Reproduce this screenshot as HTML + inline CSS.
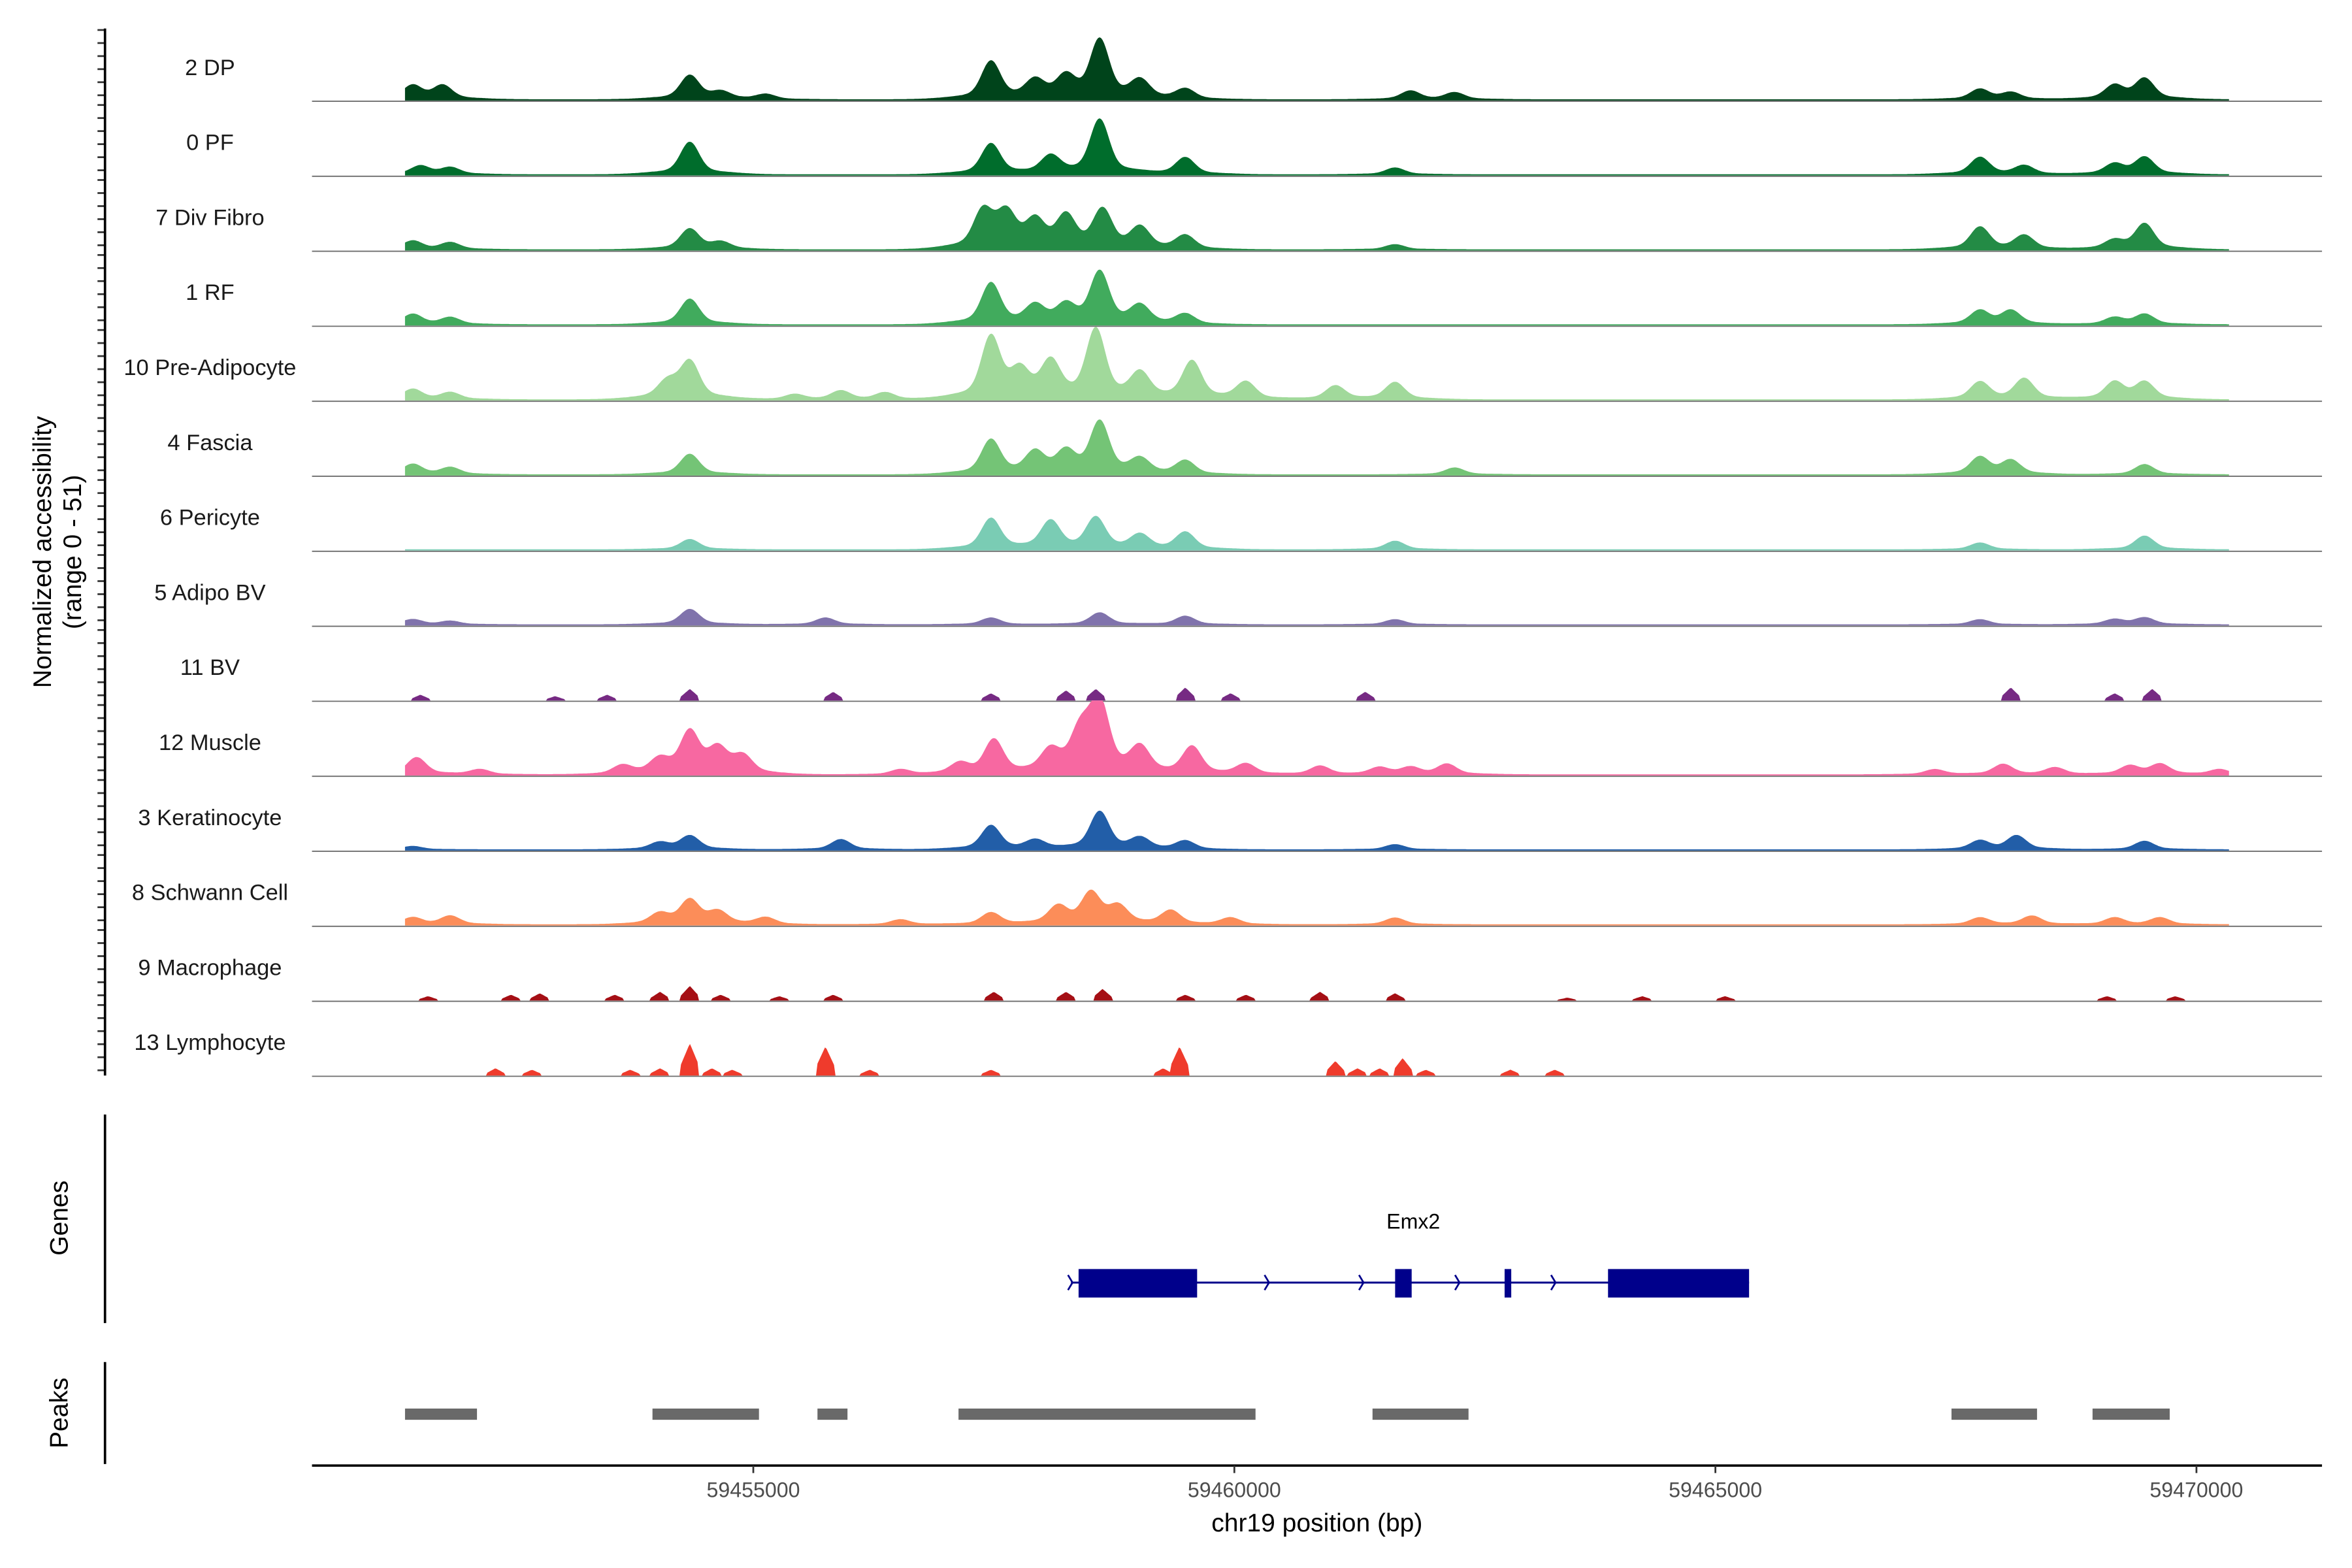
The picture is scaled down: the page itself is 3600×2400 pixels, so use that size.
<!DOCTYPE html>
<html><head><meta charset="utf-8"><style>
html,body{margin:0;padding:0;background:#fff;}
svg{display:block;font-family:"Liberation Sans",Arial,sans-serif;}
</style></head><body>
<svg id="chart" width="3600" height="2400" viewBox="0 0 1568 1045.3" preserveAspectRatio="none" xmlns="http://www.w3.org/2000/svg">
<rect width="1568" height="1046" fill="#fff"/>
<g id="tracks"></g>
<g id="axes"></g>
<text transform="translate(34,368) rotate(-90)" text-anchor="middle" font-size="17" fill="#000">Normalized accessibility</text>
<text transform="translate(54,368) rotate(-90)" text-anchor="middle" font-size="17" fill="#000">(range 0 - 51)</text>
<text transform="translate(45,812) rotate(-90)" text-anchor="middle" font-size="17" fill="#000">Genes</text>
<text transform="translate(45,942) rotate(-90)" text-anchor="middle" font-size="17" fill="#000">Peaks</text>
<g id="genes"></g>
<g id="peaks"></g>
<text x="878" y="1021" text-anchor="middle" font-size="17" fill="#000">chr19 position (bp)</text>
</svg>
<script>
const trackNames=["2 DP","0 PF","7 Div Fibro","1 RF","10 Pre-Adipocyte","4 Fascia","6 Pericyte","5 Adipo BV","11 BV","12 Muscle","3 Keratinocyte","8 Schwann Cell","9 Macrophage","13 Lymphocyte"];
const trackColors=["#00441b","#006d2c","#238b45","#41ab5d","#a1d99b","#74c476","#7accb4","#8073ac","#762a83","#f768a1","#225ea8","#fc8d59","#a50f15","#ef3b2c"];
// peak positions (kb) and heights (0-51 scale)
const pos0=[59451.46,59451.77,59454.34,59454.66,59455.13,59457.47,59457.93,59458.25,59458.60,59459.02,59459.49,59461.83,59462.29,59467.75,59468.07,59469.15,59469.46];
const val0=[8,8,14,4,3,22,10,12,34,10,6,5,4,6,4,8,12];
const pos1=[59451.54,59451.85,59454.34,59457.47,59458.09,59458.60,59459.49,59461.67,59467.75,59468.21,59469.15,59469.46];
const val1=[5,4,19,18,10,32,10,4,10,5,6,10];
const pos2=[59451.46,59451.85,59454.34,59454.66,59457.39,59457.63,59457.93,59458.25,59458.63,59459.02,59459.49,59461.67,59467.75,59468.21,59469.15,59469.46];
const val2=[5,4,12,4,22,20,15,18,22,12,8,3,13,8,5,15];
const pos3=[59451.46,59451.85,59454.34,59457.47,59457.93,59458.25,59458.60,59459.02,59459.49,59467.75,59468.07,59469.15,59469.46];
const val3=[6,4,15,24,10,10,30,10,6,8,8,4,6];
const pos4=[59451.46,59451.85,59454.11,59454.34,59455.43,59455.91,59456.37,59457.47,59457.77,59458.09,59458.56,59459.02,59459.56,59460.12,59461.05,59461.67,59467.75,59468.21,59469.15,59469.46];
const val4=[6,4,10,22,3,5,4,36,15,20,40,14,22,10,8,10,10,12,10,10];
const pos5=[59451.46,59451.85,59454.34,59457.47,59457.93,59458.25,59458.60,59459.02,59459.49,59462.29,59467.75,59468.07,59469.46];
const val5=[6,4,12,20,12,12,30,8,8,4,10,8,6];
const pos6=[59454.34,59457.47,59458.09,59458.56,59459.02,59459.49,59461.67,59467.75,59469.46];
const val6=[6,18,16,18,8,10,5,4,8];
const pos7=[59451.46,59451.85,59454.34,59455.75,59457.47,59458.60,59459.49,59461.67,59467.75,59469.15,59469.46];
const val7=[3,2,9,4,4,7,5,3,3,3,4];
const pos8=[59451.54,59452.94,59453.48,59454.34,59455.83,59457.47,59458.25,59458.56,59459.49,59459.96,59461.36,59468.07,59469.15,59469.54];
const val8=[4,3,4,8,6,5,7,8,9,5,6,9,5,8];
const pos9=[59451.50,59452.16,59453.64,59454.03,59454.34,59454.63,59454.89,59456.53,59457.15,59457.50,59458.09,59458.40,59458.60,59459.02,59459.56,59460.12,59460.89,59461.51,59461.83,59462.21,59467.28,59467.99,59468.53,59469.31,59469.62,59470.24];
const val9=[10,3,5,8,24,14,10,3,6,20,12,24,40,14,16,6,5,4,4,6,3,6,4,5,6,3];
const pos10=[59451.46,59454.03,59454.34,59455.91,59457.47,59457.93,59458.60,59459.02,59459.49,59461.67,59467.75,59468.13,59469.46];
const val10=[2,4,8,6,14,5,22,6,5,3,5,8,5];
const pos11=[59451.46,59451.85,59454.03,59454.34,59454.63,59455.13,59456.53,59457.47,59458.17,59458.51,59458.79,59459.34,59459.96,59461.67,59467.75,59468.29,59469.15,59469.62];
const val11=[4,5,6,14,7,4,3,7,10,18,10,8,4,4,4,5,4,4];
const pos12=[59451.62,59452.48,59452.78,59453.56,59454.03,59454.34,59454.66,59455.27,59455.83,59457.50,59458.25,59458.63,59459.49,59460.12,59460.89,59461.67,59463.46,59464.24,59465.10,59469.07,59469.78];
const val12=[3,4,5,4,6,10,4,3,4,6,6,8,4,4,6,5,2,3,3,3,3];
const pos13=[59452.32,59452.70,59453.72,59454.03,59454.34,59454.57,59454.78,59455.75,59456.21,59457.47,59459.26,59459.43,59461.05,59461.28,59461.51,59461.75,59461.99,59462.87,59463.33];
const val13=[5,4,4,5,22,5,4,20,4,4,5,20,10,5,5,12,4,4,4];
const trackPos=[pos0,pos1,pos2,pos3,pos4,pos5,pos6,pos7,pos8,pos9,pos10,pos11,pos12,pos13];
const trackVal=[val0,val1,val2,val3,val4,val5,val6,val7,val8,val9,val10,val11,val12,val13];
const rangeStart=59451.38, rangeEend=0, rangeEnd=59470.34;
const xTickVals=[59455000,59460000,59465000,59470000];
const peakStarts=[59451.380,59453.952,59455.667,59457.133,59461.436,59467.454,59468.920];
const peakEnds=[59452.128,59455.059,59455.979,59460.220,59462.434,59468.343,59469.722];
const exonStarts=[59458.381,59461.671,59462.809,59463.884];
const exonEnds=[59459.613,59461.843,59462.878,59465.350];
const geneStart=59458.302, geneEnd=59465.350;
const arrowPos=[59458.302,59460.345,59461.327,59462.325,59463.323];
const geneLabelPos=59461.86;

const NS="http://www.w3.org/2000/svg";
function xs(kb){return 502.2+(kb-59455)*64.14;}
function yv(v){return v*0.97;}
function mk(tag,attrs,parent){const e=document.createElementNS(NS,tag);for(const k in attrs)e.setAttribute(k,attrs[k]);parent.appendChild(e);return e;}
const tracksG=document.getElementById('tracks');
const axesG=document.getElementById('axes');
const sparse=[8,12,13];
const x0=Math.round(xs(rangeStart)), x1=Math.round(xs(rangeEnd));
for(let t=0;t<trackNames.length;t++){
  const base=67+50*t;
  const g=mk('g',{},tracksG);
  
  
  const lab=mk('text',{x:140,y:base-17,'text-anchor':'middle','font-size':15,fill:'#1a1a1a'},g);
  lab.textContent=trackNames[t];
  
  
  const P=trackPos[t],V=trackVal[t];
  const isSparse=sparse.includes(t);
  let d='M'+x0+','+base;
  for(let x=x0;x<=x1;x+=1){
    let y=0;
    for(let i=0;i<P.length;i++){
      const c=xs(P[i]);const dx=x-c;
      if(isSparse){ if(Math.abs(dx)<6) y=Math.max(y,yv(V[i])*(1-Math.abs(dx)/9)); }
      else{
        y+=yv(V[i])*Math.exp(-dx*dx/(2*6*6));
        y+=yv(V[i])*0.18*Math.exp(-dx*dx/(2*22*22));
      }
    }
    if(!isSparse) y+=0.8;
    y=Math.min(y,50);
    d+=' L'+x+','+(base-y).toFixed(1);
  }
  d+=' L'+x1+','+base+' Z';
  const p=mk('path',{d:d,fill:trackColors[t],stroke:'none'},g);
  
  
  const bl=mk('line',{x1:208,x2:1548,y1:base+0.5,y2:base+0.5,stroke:'#6e6e6e','stroke-width':0.8},g);
  
  
  for(let k=0;k<6;k++){
    const ty=base-47+k*8.7;
    const tk=mk('line',{x1:65,x2:70,y1:ty,y2:ty,stroke:'#333','stroke-width':1.2},axesG);
    
    
  }
}
let a=mk('line',{x1:70,x2:70,y1:19,y2:717,stroke:'#000','stroke-width':1.6},axesG);

a=mk('line',{x1:70,x2:70,y1:743,y2:882,stroke:'#000','stroke-width':1.6},axesG);

a=mk('line',{x1:70,x2:70,y1:908,y2:976,stroke:'#000','stroke-width':1.6},axesG);

a=mk('line',{x1:208,x2:1548,y1:977,y2:977,stroke:'#000','stroke-width':1.6},axesG);

for(const v of xTickVals){
  const x=xs(v/1000);
  const tk=mk('line',{x1:x,x2:x,y1:977,y2:982,stroke:'#333','stroke-width':1.2},axesG);
  
  
  const tl=mk('text',{x:x,y:998,'text-anchor':'middle','font-size':14,fill:'#4d4d4d'},axesG);
  tl.textContent=v;
  
  
}
const genesG=document.getElementById('genes');
let gl=mk('line',{x1:xs(geneStart),x2:xs(geneEnd),y1:855,y2:855,stroke:'#00008b','stroke-width':1.3},genesG);

for(let i=0;i<exonStarts.length;i++){
  const r=mk('rect',{x:xs(exonStarts[i]),y:846,width:xs(exonEnds[i])-xs(exonStarts[i]),height:19,fill:'#00008b'},genesG);
  
  
}
for(const p of arrowPos){
  const x=xs(p);
  const ar=mk('path',{d:`M${x-2},850 L${x+1},855 L${x-2},860`,fill:'none',stroke:'#00008b','stroke-width':1.2},genesG);
  
  
}
const gt=mk('text',{x:xs(geneLabelPos),y:819,'text-anchor':'middle','font-size':14,fill:'#000'},genesG);
gt.textContent='Emx2';


const peaksG=document.getElementById('peaks');
for(let i=0;i<peakStarts.length;i++){
  const r=mk('rect',{x:xs(peakStarts[i]),y:939,width:xs(peakEnds[i])-xs(peakStarts[i]),height:7.5,fill:'#696969'},peaksG);
  
  
}
</script>
</body></html>
